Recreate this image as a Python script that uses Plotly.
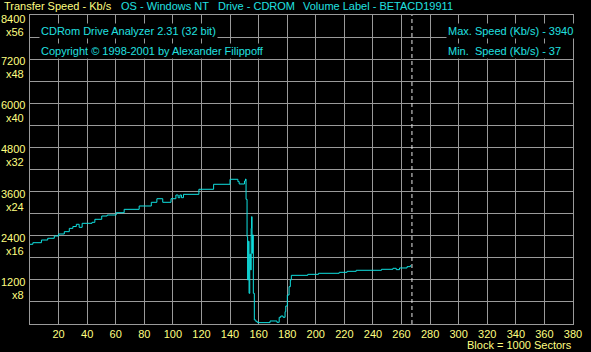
import plotly.graph_objects as go

# ---- data (block number in 1000-sector units, transfer speed Kb/s) ----
block = [0, 2, 8, 12.4, 17, 20, 24, 27.5, 30, 32.4, 34.4, 36.5, 43.4, 45.4, 50.2, 54,
         60.3, 65.9, 76.4, 84.9, 88.8, 92.9, 98.7, 102.1, 103.7, 104.9, 106, 107.4,
         118.2, 128.5, 140, 145.5, 146.4, 150.1, 150.8, 151.2, 151.9, 152.3, 152.8,
         153.3, 153.8, 154.4, 154.8, 155.1, 155.4, 155.7, 156.3, 157.0, 158.1, 159.2,
         168, 172.8, 174.4, 175.5, 177.1, 178.5, 179, 180.1, 181.3, 182.2, 182.9,
         194.4, 201.9, 216.4, 221.9, 228.3, 246, 254, 256.3, 258.6, 263.9, 266.2, 266.6]
speed = [2167, 2210, 2283, 2330, 2392, 2447, 2510, 2600, 2650, 2710, 2628, 2737, 2764, 2846, 2936, 2963,
         3026, 3117, 3208, 3308, 3406, 3308, 3406, 3507, 3434, 3507, 3434, 3525,
         3662, 3798, 3934, 3870, 3806, 3887, 3940, 3390, 2373, 1196, 2250,
         834, 1900, 1470, 2600, 2918, 1922, 2420, 834, 109, 64, 37,
         82, 46, 182, 217, 182, 335, 489, 788, 1015, 1196, 1323,
         1350, 1378, 1405, 1432, 1460, 1487, 1514, 1478, 1523, 1559, 1587, 1587]

x_ticks = list(range(20, 381, 20))
x_tick_labels = [str(v) for v in x_ticks]
y_grid = list(range(0, 8401, 600))
speed_ticks = [1200, 2400, 3600, 4800, 6000, 7200, 8400]
multiplier_labels = ["x8", "x16", "x24", "x32", "x40", "x48", "x56"]
end_marker = 267.3

header_texts = ["Transfer Speed - Kb/s", "OS - Windows NT", "Drive - CDROM", "Volume Label - BETACD19911"]
info_left = ["CDRom Drive Analyzer 2.31 (32 bit)", "Copyright \u00a9 1998-2001 by Alexander Filippoff"]
info_right = ["Max. Speed (Kb/s) - 3940", "Min.\u00a0 Speed (Kb/s) - 37"]

YELLOW = "#FFFF80"
CYAN = "#20E0E0"
GRID = "#9A9A9A"
FONT = "Liberation Sans"

fig = go.Figure()
fig.add_trace(go.Scatter(x=block, y=speed, mode="lines",
                         line=dict(color="#10E0E0", width=1, shape="hv"),
                         hoverinfo="skip", showlegend=False))

fig.update_layout(
    width=591, height=352,
    margin=dict(l=30, r=9, t=15, b=28),
    paper_bgcolor="black", plot_bgcolor="black",
    font=dict(family=FONT, size=11, color=YELLOW),
    showlegend=False,
)
fig.update_xaxes(range=[0, 380.02], tickvals=x_ticks, ticktext=x_tick_labels,
                 showgrid=True, gridcolor=GRID, gridwidth=1, zeroline=False,
                 showline=True, mirror=True, linecolor=GRID, linewidth=1,
                 ticks="", ticklabeloverflow="allow",
                 tickfont=dict(family=FONT, size=11, color=YELLOW))
fig.update_yaxes(range=[0, 8400], tickvals=y_grid, showticklabels=False,
                 showgrid=True, gridcolor=GRID, gridwidth=1, zeroline=False,
                 showline=True, mirror=True, linecolor=GRID, linewidth=1, ticks="")

fig.add_shape(type="line", xref="x", yref="paper", x0=end_marker, x1=end_marker, y0=0, y1=1,
              line=dict(color="#E8E8E8", width=1, dash="4px,3px"))


# page pixel -> paper fraction (paper = plot area 30..582 x 15..324)
def px(xp):
    return (xp - 30) / 552


def py(yp):
    return (324 - yp) / 309


ann = []
for v, m in zip(speed_ticks, multiplier_labels):
    top = v == speed_ticks[-1]
    ann.append(dict(x=0, xref="paper", y=v, yref="y", text=str(v), showarrow=False,
                    xanchor="right", yanchor="middle", xshift=-3, yshift=-4 if top else -2,
                    font=dict(family=FONT, size=11, color=YELLOW)))
    ann.append(dict(x=0, xref="paper", y=v, yref="y", text=m, showarrow=False,
                    xanchor="right", yanchor="middle", xshift=-4, yshift=-17 if top else -15,
                    font=dict(family=FONT, size=11, color=YELLOW)))

header_x = [2, 120, 219, 305]
header_col = [YELLOW, CYAN, CYAN, CYAN]
for t, hx, c in zip(header_texts, header_x, header_col):
    ann.append(dict(x=px(hx), xref="paper", y=py(6.5), yref="paper", text=t,
                    showarrow=False, xanchor="left", yanchor="middle",
                    font=dict(family=FONT, size=11, color=c)))

for t, yp in zip(info_left, [31, 51.5]):
    ann.append(dict(x=px(39), xref="paper", y=py(yp), yref="paper", text=t, showarrow=False,
                    xanchor="left", yanchor="middle", bgcolor="black", borderpad=1,
                    font=dict(family=FONT, size=11, color=CYAN)))
for t, yp in zip(info_right, [31, 51.5]):
    ann.append(dict(x=px(453), xref="paper", y=py(yp), yref="paper", text=t, showarrow=False,
                    xanchor="left", yanchor="middle", bgcolor="black", borderpad=1,
                    font=dict(family=FONT, size=11, color=CYAN)))

ann.append(dict(x=px(583), xref="paper", y=py(345.5), yref="paper",
                text="Block = 1000 Sectors", showarrow=False, xanchor="right", yanchor="middle",
                font=dict(family=FONT, size=11, color=YELLOW)))

fig.update_layout(annotations=ann)
fig.write_html("out.html")
